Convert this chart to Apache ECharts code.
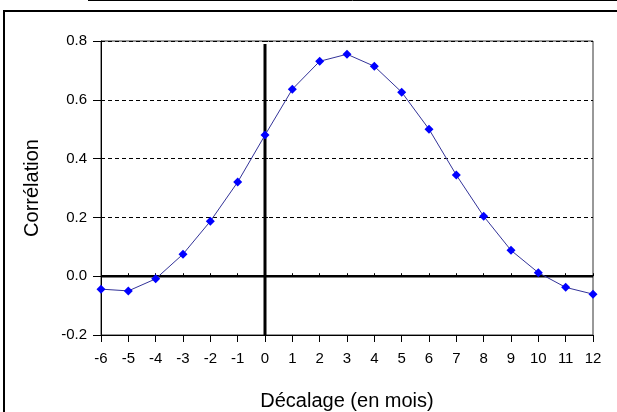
<!DOCTYPE html>
<html><head><meta charset="utf-8">
<script src="https://cdn.jsdelivr.net/npm/echarts@6/dist/echarts.min.js"></script>
<style>html,body{margin:0;padding:0;background:#fff}#c{width:617px;height:412px}</style>
</head><body><div id="c"></div>
<script>
var lags = [-6,-5,-4,-3,-2,-1,0,1,2,3,4,5,6,7,8,9,10,11,12];
var correlation = [-0.044,-0.05,-0.009,0.075,0.187,0.32,0.48,0.636,0.731,0.755,0.714,0.626,0.5,0.344,0.204,0.088,0.012,-0.038,-0.061];
var zeroLine = [[-6,0],[12,0]];
var lagZeroLine = [[0,-0.2],[0,0.79]];
var xTitle = 'Décalage (en mois)';
var yTitle = 'Corrélation';

var chart = echarts.init(document.getElementById('c'), null, {renderer:'canvas'});
var font = '"Liberation Sans", Arial, sans-serif';
chart.setOption({
  animation:false,
  backgroundColor:'#fff',
  graphic:[
    {type:'line', shape:{x1:88,y1:0.5,x2:617,y2:0.5}, style:{stroke:'#000',lineWidth:1}},
    {type:'polyline', shape:{points:[[4,412],[4,11],[617,11]]}, style:{stroke:'#000',lineWidth:2,fill:null}}
  ],
  grid:{left:101,right:24,top:41,bottom:77,show:true,borderColor:'#333',borderWidth:1,backgroundColor:'#fff',
    containLabel:false,outerBoundsMode:'none'},
  xAxis:[{type:'value',min:-6,max:12,interval:1,
    name:xTitle,nameLocation:'middle',nameGap:56,
    nameTextStyle:{fontFamily:font,fontSize:20,color:'#000'},
    axisLine:{onZero:false,lineStyle:{color:'#000',width:1}},
    axisTick:{show:true,length:7,lineStyle:{color:'#000'}},
    axisLabel:{fontFamily:font,fontSize:15,color:'#000',margin:16},
    splitLine:{show:false}},
   {type:'value',min:-6,max:12,interval:1,position:'bottom',offset:0,
    axisLine:{show:false},axisLabel:{show:false},splitLine:{show:false},
    axisTick:{show:true,inside:true,length:3,lineStyle:{color:'#000'}}}],
  yAxis:[{type:'value',min:-0.2,max:0.8,interval:0.2,
    name:yTitle,nameLocation:'middle',nameGap:59,nameRotate:90,
    nameTextStyle:{fontFamily:font,fontSize:20,color:'#000'},
    axisLine:{onZero:false,lineStyle:{color:'#000',width:1}},
    axisTick:{show:true,length:8,lineStyle:{color:'#000'}},
    axisLabel:{fontFamily:font,fontSize:15,color:'#000',margin:14,formatter:function(v){return v.toFixed(1);}},
    splitLine:{show:true,lineStyle:{color:'#000',type:[4,3],width:1}}},
   {type:'value',min:-0.2,max:0.8,interval:0.2,position:'left',offset:0,
    axisLine:{show:false},axisLabel:{show:false},splitLine:{show:false},
    axisTick:{show:true,inside:true,length:3,lineStyle:{color:'#000'}}}],
  series:[
    {type:'line',data:zeroLine,symbol:'none',silent:true,lineStyle:{color:'#000',width:2.5},z:3},
    {type:'line',data:lagZeroLine,symbol:'none',silent:true,lineStyle:{color:'#000',width:3},z:3},
    {type:'line',data:lags.map(function(x,i){return [x,correlation[i]];}),
      symbol:'diamond',symbolSize:9,
      itemStyle:{color:'#0000ff'},
      lineStyle:{color:'#333399',width:1},z:5}
  ]
});
</script></body></html>
